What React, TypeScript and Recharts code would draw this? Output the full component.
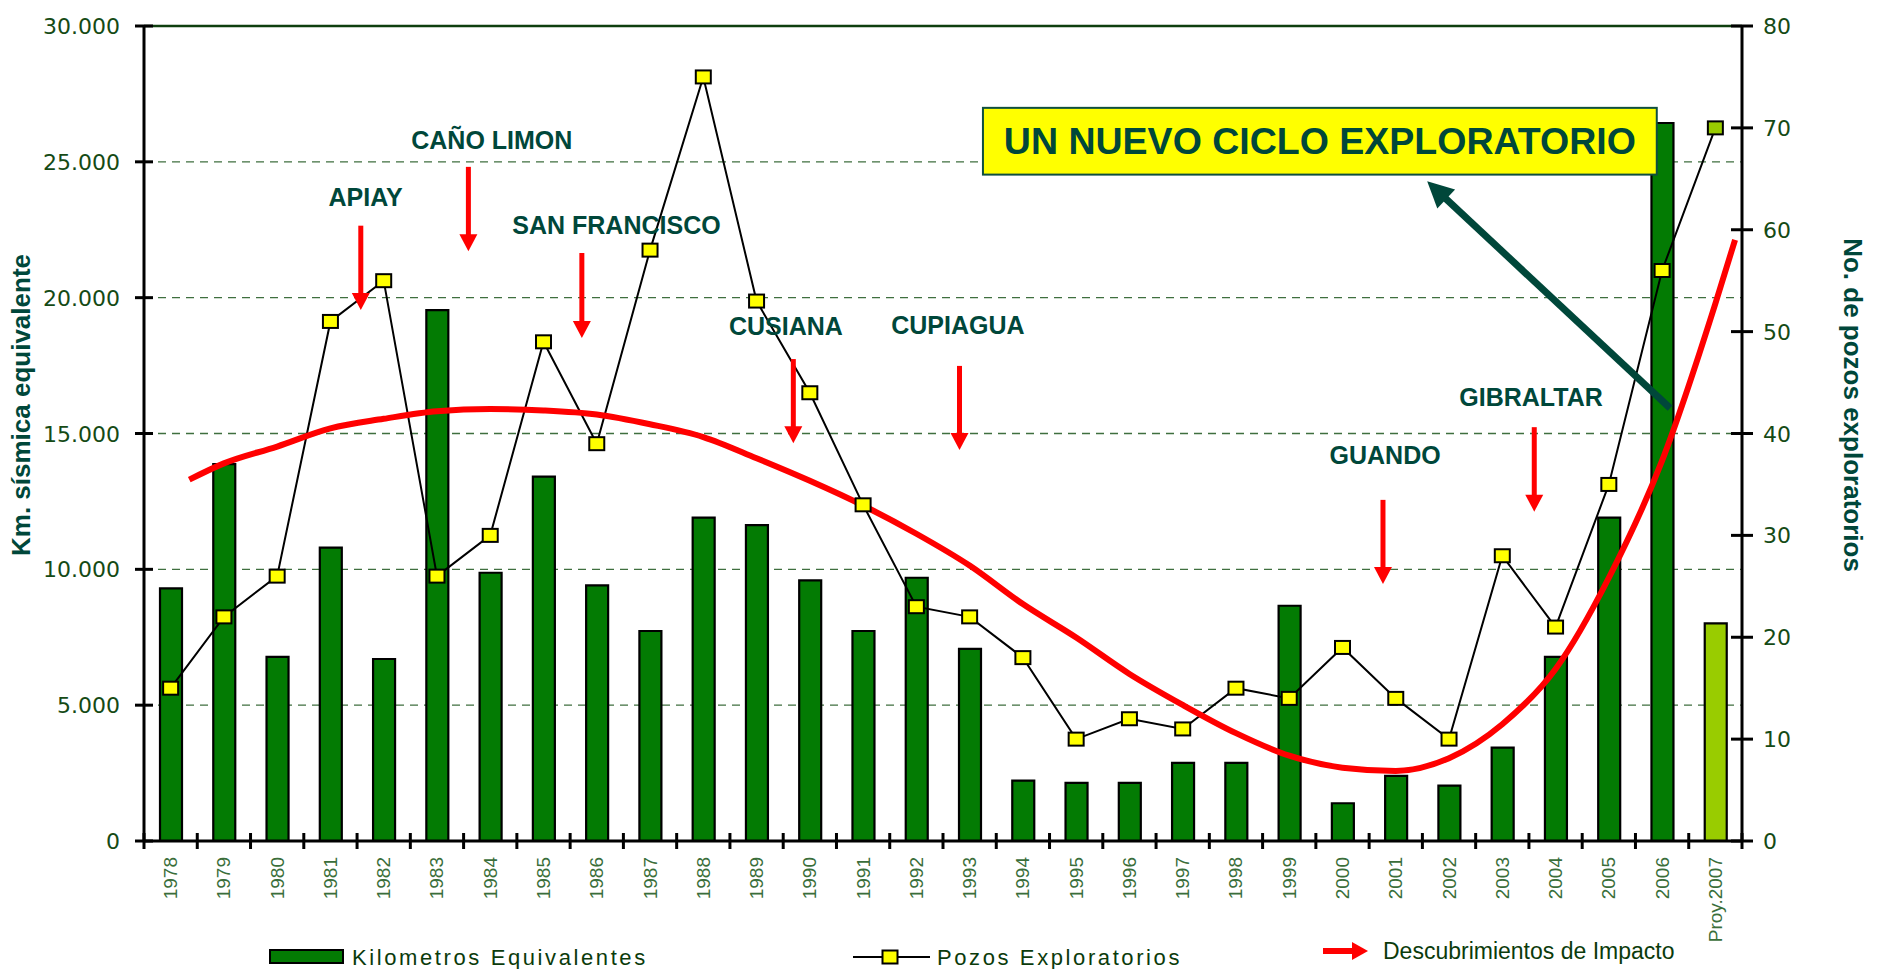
import React from "react";
import {
  ComposedChart,
  Bar,
  Line,
  XAxis,
  YAxis,
  CartesianGrid,
  Cell,
  ReferenceLine,
  ReferenceDot,
  ReferenceArea,
} from "recharts";

// --- data ---
const years = [
  "1978", "1979", "1980", "1981", "1982", "1983", "1984", "1985", "1986", "1987",
  "1988", "1989", "1990", "1991", "1992", "1993", "1994", "1995", "1996", "1997",
  "1998", "1999", "2000", "2001", "2002", "2003", "2004", "2005", "2006", "Proy.2007",
];
const kmEquivalentes = [
  9300, 13870, 6780, 10800, 6700, 19540, 9875, 13410, 9410, 7730,
  11900, 11630, 9590, 7730, 9690, 7075, 2225, 2140, 2140, 2875,
  2875, 8660, 1390, 2395, 2040, 3440, 6780, 11900, 26430, 8010,
];
const pozosExploratorios = [
  15, 22, 26, 51, 55, 26, 30, 49, 39, 58,
  75, 53, 44, 33, 23, 22, 18, 10, 12, 11,
  15, 14, 19, 14, 10, 28, 21, 35, 56, 70,
];
// hand drawn "Descubrimientos de Impacto" curve, x in years, y in km
const trendYears = [
  1978.35, 1979, 1980, 1981, 1982, 1983, 1984, 1985, 1986, 1987, 1988, 1989, 1990,
  1991, 1992, 1993, 1994, 1995, 1996, 1997, 1998, 1999, 2000, 2001, 2002, 2003,
  2004, 2005, 2006, 2007, 2007.37,
];
const trendKm = [
  13300, 13900, 14520, 15190, 15540, 15820, 15900, 15850, 15700, 15340, 14870, 14090, 13260,
  12350, 11310, 10140, 8720, 7490, 6150, 5010, 3970, 3140, 2700, 2580, 3050, 4300,
  6330, 9690, 14000, 19780, 22130,
];
const leftTicks = [0, 5000, 10000, 15000, 20000, 25000, 30000];
const rightTicks = [0, 10, 20, 30, 40, 50, 60, 70, 80];

// discoveries (label position + arrow), in year / km units
const discoveries = ["APIAY", "CAÑO LIMON", "SAN FRANCISCO", "CUSIANA", "CUPIAGUA", "GUANDO", "GIBRALTAR"];
const discLabelX = [1981.66, 1984.03, 1986.37, 1989.55, 1992.78, 2000.8, 2003.54];
const discLabelY = [23720, 25795, 22660, 18940, 18980, 14212, 16340];
const discArrowX = [1981.57, 1983.59, 1985.72, 1989.69, 1992.81, 2000.76, 2003.6];
const discArrowFrom = [22650, 24815, 21645, 17740, 17488, 12557, 15233];
const discArrowTo = [19550, 21705, 18513, 14645, 14392, 9460, 12124];

const data = years.map((label, i) => ({
  label,
  km: kmEquivalentes[i],
  pozos: pozosExploratorios[i],
}));
const trend = trendYears.map((year, i) => ({ year, km: trendKm[i] }));

// --- layout ---
const W = 1877;
const H = 969;
const MARGIN = { top: 26, right: 35, bottom: 28, left: 44 };
const AXIS_W = 100;
const PLOT_W = W - MARGIN.left - MARGIN.right - 2 * AXIS_W;
const HALF_BAND = PLOT_W / years.length / 2;

const FONT = "'Liberation Sans', Arial, sans-serif";
const TEAL = "#00473A";
const BAR_GREEN = "#037B03";
const PROY_GREEN = "#99CC00";
const RED = "#FF0000";

function fmtThousands(v: number) {
  return String(v).replace(/\B(?=(\d{3})+(?!\d))/g, ".");
}

function arrow(x1: number, y1: number, x2: number, y2: number, shaft: number, headW: number, headL: number, color: string) {
  const len = Math.hypot(x2 - x1, y2 - y1) || 1;
  const ux = (x2 - x1) / len;
  const uy = (y2 - y1) / len;
  const bx = x2 - ux * headL;
  const by = y2 - uy * headL;
  const px = -uy * (headW / 2);
  const py = ux * (headW / 2);
  return (
    <g>
      <line x1={x1} y1={y1} x2={bx + ux} y2={by + uy} stroke={color} strokeWidth={shaft} />
      <polygon points={`${x2},${y2} ${bx + px},${by + py} ${bx - px},${by - py}`} fill={color} />
    </g>
  );
}

function XTick(props: any) {
  const { x, y, payload, index } = props;
  return (
    <g>
      <line x1={x - HALF_BAND} x2={x - HALF_BAND} y1={y - 8} y2={y + 8} stroke="#000" strokeWidth={3} />
      {index === years.length - 1 && (
        <line x1={x + HALF_BAND} x2={x + HALF_BAND} y1={y - 8} y2={y + 8} stroke="#000" strokeWidth={3} />
      )}
      <text
        x={0}
        y={0}
        transform={`translate(${x},${y + 16}) rotate(-90)`}
        textAnchor="end"
        dominantBaseline="central"
        fontFamily={FONT}
        fontSize={19}
        fill="#3A6E3A"
      >
        {payload.value}
      </text>
    </g>
  );
}

function LeftTick(props: any) {
  const { x, y, payload } = props;
  return (
    <g>
      <line x1={x - 9} x2={x + 9} y1={y} y2={y} stroke="#000" strokeWidth={3} />
      <text x={x - 24} y={y + 8} textAnchor="end" fontFamily="'DejaVu Sans', sans-serif" fontSize={22} fill="#154A15">
        {fmtThousands(payload.value)}
      </text>
    </g>
  );
}

function RightTick(props: any) {
  const { x, y, payload } = props;
  return (
    <g>
      <line x1={x - 11} x2={x + 11} y1={y} y2={y} stroke="#000" strokeWidth={3} />
      <text x={x + 21} y={y + 8} textAnchor="start" fontFamily="'DejaVu Sans', sans-serif" fontSize={22} fill="#154A15">
        {payload.value}
      </text>
    </g>
  );
}

function PozoDot(props: any) {
  const { cx, cy, index } = props;
  if (cx == null || cy == null) return <g key={`d${index}`} />;
  const fill = index === years.length - 1 ? PROY_GREEN : "#FFFF00";
  return <rect key={`d${index}`} x={cx - 7.5} y={cy - 6.5} width={15} height={13} fill={fill} stroke="#000" strokeWidth={2} />;
}

export default function App() {
  return (
    <div style={{ position: "absolute", left: 0, top: 0, width: W, height: H, background: "#fff" }}>
      <ComposedChart width={W} height={H} data={data} margin={MARGIN}>
        <CartesianGrid
          yAxisId="left"
          vertical={false}
          stroke="#3F6F3F"
          strokeDasharray="8 6"
          strokeWidth={1.3}
        />
        <XAxis
          dataKey="label"
          interval={0}
          tickLine={false}
          tickSize={0}
          tickMargin={0}
          height={AXIS_W}
          axisLine={{ stroke: "#000", strokeWidth: 3 }}
          tick={XTick}
        />
        <XAxis xAxisId="t" type="number" dataKey="year" domain={[1977.5, 2007.5]} allowDataOverflow hide />
        <YAxis
          yAxisId="left"
          domain={[0, 30000]}
          ticks={leftTicks}
          interval={0}
          width={AXIS_W}
          tickLine={false}
          tickSize={0}
          tickMargin={0}
          axisLine={{ stroke: "#000", strokeWidth: 3 }}
          tick={LeftTick}
        />
        <YAxis
          yAxisId="right"
          orientation="right"
          domain={[0, 80]}
          ticks={rightTicks}
          interval={0}
          width={AXIS_W}
          tickLine={false}
          tickSize={0}
          tickMargin={0}
          axisLine={{ stroke: "#000", strokeWidth: 3 }}
          tick={RightTick}
        />
        <ReferenceLine yAxisId="left" y={30000} stroke="#0F3F0F" strokeWidth={2.5} />

        <Bar dataKey="km" yAxisId="left" barSize={22} stroke="#000" strokeWidth={2.2} isAnimationActive={false}>
          {data.map((d, i) => (
            <Cell key={d.label} fill={i === years.length - 1 ? PROY_GREEN : BAR_GREEN} />
          ))}
        </Bar>
        <Line
          dataKey="pozos"
          yAxisId="right"
          type="linear"
          stroke="#000"
          strokeWidth={2}
          dot={(p: any) => <PozoDot {...p} />}
          activeDot={false}
          isAnimationActive={false}
        />
        <Line
          data={trend}
          dataKey="km"
          xAxisId="t"
          yAxisId="left"
          type="monotone"
          stroke={RED}
          strokeWidth={6}
          dot={false}
          activeDot={false}
          isAnimationActive={false}
        />

        {discoveries.map((name, i) => (
          <ReferenceLine
            key={`a-${name}`}
            xAxisId="t"
            yAxisId="left"
            zIndex={1500}
            segment={[
              { x: discArrowX[i], y: discArrowFrom[i] },
              { x: discArrowX[i], y: discArrowTo[i] },
            ]}
            shape={(p: any) => arrow(p.x1, p.y1, p.x2, p.y2, 5, 18, 17, RED)}
          />
        ))}
        {discoveries.map((name, i) => (
          <ReferenceDot
            key={`t-${name}`}
            xAxisId="t"
            yAxisId="left"
            zIndex={1500}
            x={discLabelX[i]}
            y={discLabelY[i]}
            r={1}
            shape={(p: any) => (
              <text x={p.cx} y={p.cy + 9} textAnchor="middle" fontFamily={FONT} fontWeight="bold" fontSize={25} fill={TEAL}>
                {name}
              </text>
            )}
          />
        ))}
        <ReferenceArea
          xAxisId="t"
          yAxisId="left"
          zIndex={1500}
          x1={1993.25}
          x2={2005.9}
          y1={24530}
          y2={26987}
          shape={(p: any) => (
            <g>
              <rect x={p.x} y={p.y} width={p.width} height={p.height} fill="#FFFF00" stroke="#0F4F3F" strokeWidth={2} />
              <text
                x={p.x + p.width / 2}
                y={p.y + p.height / 2 + 13}
                textAnchor="middle"
                fontFamily={FONT}
                fontWeight="bold"
                fontSize={37}
                fill={TEAL}
                textLength={632}
                lengthAdjust="spacingAndGlyphs"
              >
                UN NUEVO CICLO EXPLORATORIO
              </text>
            </g>
          )}
        />
        <ReferenceLine
          xAxisId="t"
          yAxisId="left"
          zIndex={1500}
          segment={[
            { x: 2006.15, y: 15933 },
            { x: 2001.59, y: 24283 },
          ]}
          shape={(p: any) => arrow(p.x1, p.y1, p.x2, p.y2, 7, 26, 26, TEAL)}
        />
      </ComposedChart>

      {/* axis titles and legend */}
      <svg width={W} height={H} style={{ position: "absolute", left: 0, top: 0, pointerEvents: "none" }}>
        <text
          transform="translate(21,405) rotate(-90)"
          textAnchor="middle"
          dominantBaseline="central"
          fontFamily={FONT}
          fontWeight="bold"
          fontSize={26}
          fill={TEAL}
        >
          Km. sísmica equivalente
        </text>
        <text
          transform="translate(1853,405) rotate(90)"
          textAnchor="middle"
          dominantBaseline="central"
          fontFamily={FONT}
          fontWeight="bold"
          fontSize={26}
          fill={TEAL}
        >
          No. de pozos exploratorios
        </text>

        <rect x={270} y={950} width={73} height={13} fill={BAR_GREEN} stroke="#000" strokeWidth={2} />
        <text x={352} y={965} fontFamily={FONT} fontSize={22} letterSpacing={2.6} fill="#0B3B0B">
          Kilometros Equivalentes
        </text>

        <line x1={853} x2={930} y1={957} y2={957} stroke="#000" strokeWidth={2} />
        <rect x={882.5} y={950.5} width={15} height={13} fill="#FFFF00" stroke="#000" strokeWidth={2} />
        <text x={937} y={965} fontFamily={FONT} fontSize={22} letterSpacing={2.6} fill="#0B3B0B">
          Pozos Exploratorios
        </text>

        {arrow(1323, 951, 1368, 951, 6, 18, 16, RED)}
        <text x={1383} y={959} fontFamily={FONT} fontSize={23} fill="#0B3B0B">
          Descubrimientos de Impacto
        </text>
      </svg>
    </div>
  );
}
